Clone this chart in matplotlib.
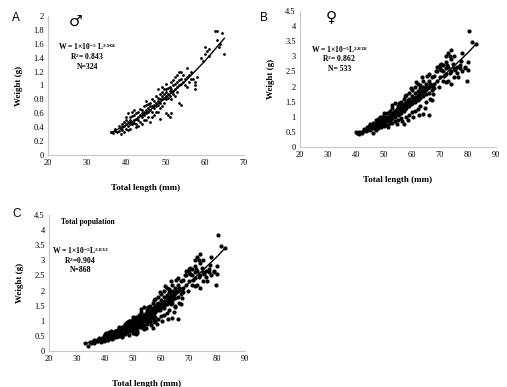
import matplotlib
matplotlib.use("Agg")
import matplotlib.pyplot as plt

plt.rcParams['font.family'] = ['Liberation Serif', 'DejaVu Serif']
plt.rcParams['mathtext.fontset'] = 'custom'
plt.rcParams['mathtext.rm'] = 'Liberation Serif:bold'
plt.rcParams['mathtext.it'] = 'Liberation Serif:bold'
plt.rcParams['mathtext.bf'] = 'Liberation Serif:bold'

# male (A): (total length mm, weight g)
male_pts = [
    (36, 0.33), (36.5, 0.32), (37, 0.34), (37, 0.38), (37.5, 0.33), (38, 0.35), (38, 0.42),
    (38.5, 0.38), (38.5, 0.3), (39, 0.4), (39, 0.44), (39, 0.36), (39.5, 0.42), (39.5, 0.48),
    (40, 0.38), (40, 0.45), (40, 0.5), (40, 0.55), (40.5, 0.42), (40.5, 0.47), (40.5, 0.6),
    (41, 0.45), (41, 0.5), (41, 0.38), (41, 0.55), (41.5, 0.48), (41.5, 0.44), (41.5, 0.62),
    (42, 0.5), (42, 0.46), (42, 0.58), (42, 0.65), (42.5, 0.52), (42.5, 0.45), (42.5, 0.6),
    (43, 0.5), (43, 0.55), (43, 0.62), (43, 0.42), (43.5, 0.58), (43.5, 0.48), (44, 0.55),
    (44, 0.6), (44, 0.65), (44, 0.45), (44.5, 0.58), (44.5, 0.62), (44.5, 0.7), (45, 0.6),
    (45, 0.65), (45, 0.72), (45, 0.5), (45, 0.78), (45.5, 0.62), (45.5, 0.68), (45.5, 0.55),
    (46, 0.65), (46, 0.7), (46, 0.75), (46, 0.48), (46.5, 0.7), (46.5, 0.62), (46.5, 0.8),
    (47, 0.68), (47, 0.72), (47, 0.78), (47, 0.58), (47.5, 0.75), (47.5, 0.7), (47.5, 0.85),
    (48, 0.72), (48, 0.78), (48, 0.82), (48, 0.62), (48, 0.95), (48.5, 0.8), (48.5, 0.75),
    (48.5, 0.88), (48.5, 0.52), (49, 0.8), (49, 0.85), (49, 0.9), (49, 0.7), (49, 0.98),
    (49.5, 0.82), (49.5, 0.88), (49.5, 0.75), (50, 0.85), (50, 0.8), (50, 0.9), (50, 0.95),
    (50, 0.6), (50, 1.02), (50.5, 0.82), (50.5, 0.88), (50.5, 0.58), (51, 0.85), (51, 0.92),
    (51, 0.98), (51, 0.55), (51.5, 0.9), (51.5, 0.95), (51.5, 1.05), (51.5, 0.6), (52, 0.92),
    (52, 1.0), (52, 1.08), (52, 0.88), (52.5, 0.95), (52.5, 1.02), (52.5, 1.12), (53, 0.98),
    (53, 1.05), (53, 1.15), (53, 0.9), (53.5, 1.0), (53.5, 1.08), (53.5, 0.75), (54, 1.02),
    (54, 1.1), (54, 0.72), (54, 1.2), (54.5, 1.05), (55, 1.1), (55, 1.0), (55.5, 1.25),
    (55.5, 1.12), (56, 1.15), (56, 1.05), (56.5, 1.2), (57, 1.1), (57.5, 1.0), (57.5, 0.95),
    (57.5, 1.05), (58, 1.12), (59, 1.4), (59.5, 1.35), (60, 1.55), (60, 1.45), (60.5, 1.5),
    (61, 1.52), (61, 1.42), (62.5, 1.78), (63, 1.79), (63, 1.65), (64.5, 1.75), (65, 1.46),
    (64, 1.6), (63.5, 1.55),
    (39.5, 0.33), (40.5, 0.36), (41.5, 0.56), (42.5, 0.4), (43.5, 0.66), (44.5, 0.5),
    (45.5, 0.74), (46.5, 0.55), (47.5, 0.62), (48.5, 0.68), (49.5, 0.95), (50.5, 0.96),
    (51.5, 0.8), (52.5, 0.85), (53.5, 1.2), (54.5, 1.15), (55.5, 0.98), (56.5, 1.1),
]

# female (B)
female_pts = [
    (40, 0.5), (40.5, 0.45), (41, 0.42), (41, 0.48), (42, 0.45), (42, 0.5), (43, 0.55), (43, 0.6),
    (43.5, 0.52), (44, 0.6), (44, 0.65), (44, 0.55), (44.5, 0.62), (44.5, 0.7), (45, 0.6),
    (45, 0.68), (45, 0.75), (45, 0.55), (45.5, 0.65), (45.5, 0.72), (46, 0.7), (46, 0.62),
    (46, 0.8), (46, 0.45), (46.5, 0.75), (46.5, 0.68), (47, 0.72), (47, 0.8), (47, 0.65),
    (47, 0.88), (47.5, 0.75), (47.5, 0.82), (48, 0.78), (48, 0.7), (48, 0.85), (48, 0.92),
    (48, 0.62), (48.5, 0.8), (48.5, 0.88), (49, 0.82), (49, 0.75), (49, 0.9), (49, 0.98),
    (49, 0.65), (49.5, 0.85), (49.5, 0.92), (50, 0.85), (50, 0.78), (50, 0.95), (50, 1.05),
    (50, 0.7), (50.5, 0.9), (50.5, 0.82), (51, 0.92), (51, 0.85), (51, 1.0), (51, 1.12),
    (51, 0.72), (51.5, 0.95), (51.5, 0.88), (52, 0.98), (52, 0.9), (52, 1.05), (52, 1.2),
    (52, 0.78), (52.5, 1.0), (52.5, 0.92), (53, 1.05), (53, 0.95), (53, 1.12), (53, 1.3),
    (53, 0.8), (53.5, 1.05), (53.5, 1.15), (54, 1.1), (54, 1.0), (54, 1.2), (54, 1.45),
    (54, 0.85), (54.5, 1.12), (54.5, 1.25), (55, 1.15), (55, 1.05), (55, 1.25), (55, 1.35),
    (55, 0.9), (55.5, 1.2), (55.5, 1.1), (56, 1.22), (56, 1.12), (56, 1.32), (56, 1.5),
    (56, 0.95), (56.5, 1.25), (56.5, 1.38), (57, 1.3), (57, 1.2), (57, 1.42), (57, 1.6),
    (57, 0.75), (57.5, 1.35), (57.5, 1.25), (58, 1.38), (58, 1.28), (58, 1.5), (58, 1.72),
    (58, 1.0), (58.5, 1.4), (58.5, 1.55), (59, 1.45), (59, 1.35), (59, 1.6), (59, 1.8),
    (59, 1.05), (59.5, 1.5), (59.5, 1.42), (60, 1.55), (60, 1.45), (60, 1.7), (60, 1.9),
    (60, 1.15), (60.5, 1.6), (60.5, 1.5), (61, 1.62), (61, 1.5), (61, 1.78), (61, 2.0),
    (61, 1.2), (61.5, 1.65), (62, 1.7), (62, 1.55), (62, 1.85), (62, 2.1), (62, 1.25),
    (62.5, 1.75), (63, 1.78), (63, 1.62), (63, 1.95), (63, 2.05), (63, 1.35), (63.5, 1.85),
    (64, 1.85), (64, 1.7), (64, 2.0), (64, 2.2), (64, 1.1), (64.5, 1.9), (65, 1.95), (65, 1.75),
    (65, 2.1), (65, 1.5), (65.5, 2.0), (66, 2.0), (66, 1.8), (66, 2.2), (66, 2.4), (66, 1.05),
    (66.5, 1.6), (67, 2.05), (67, 1.9), (67, 2.3), (67, 1.55), (67.5, 2.0), (68, 2.1),
    (68, 1.95), (68, 2.35), (69, 2.5), (69, 2.2), (69, 2.65), (70, 2.6), (70, 2.7), (70, 2.3),
    (70.5, 2.55), (71, 2.7), (71, 2.5), (71, 2.2), (72, 2.6), (72, 2.8), (72, 2.4), (72, 3.0),
    (72, 2.15), (73, 3.1), (73, 2.65), (73, 2.2), (73.5, 3.0), (74, 2.9), (74, 3.2), (74, 2.5),
    (74, 2.1), (74.5, 2.75), (75, 2.6), (75, 3.0), (75, 2.3), (75.5, 2.55), (76, 2.65),
    (76, 2.45), (77, 2.7), (77, 2.6), (78, 2.5), (78, 3.1), (79, 2.6), (79, 2.65), (80, 2.8),
    (80, 2.55), (80.5, 3.85), (81.5, 3.48), (83, 3.42),
    (47, 0.55), (48.5, 1.0), (50, 1.12), (51.5, 0.65), (53, 1.4), (54.5, 0.75), (55.5, 1.45),
    (56.5, 0.85), (57.5, 1.68), (58.5, 0.9), (59.5, 1.95), (60.5, 1.0), (61.5, 2.15),
    (62.5, 1.05), (63.5, 2.3), (64.5, 1.3), (65.5, 2.35), (66.5, 2.1), (67.5, 1.75),
    (68.5, 2.5), (69.5, 2.0), (70.5, 2.75), (71.5, 2.35), (72.5, 2.7), (73.5, 2.45),
    (76.5, 2.3), (77.5, 2.85), (79.5, 2.2),
]

# unsexed small fish, only in total population (C)
juvenile_pts = [(33, 0.28), (34, 0.17), (34.5, 0.3), (35, 0.27), (35.5, 0.3), (36, 0.35), (36, 0.28)]

# trend lines
male_fit_x = [36, 40, 45, 50, 55, 60, 65]
male_fit_y = [0.32, 0.43, 0.60, 0.82, 1.06, 1.35, 1.68]
female_fit_x = [40, 45, 50, 55, 60, 65, 70, 75, 80, 83]
female_fit_y = [0.45, 0.62, 0.85, 1.12, 1.45, 1.82, 2.25, 2.68, 3.12, 3.42]
total_fit_x = [33, 36, 40, 45, 50, 55, 60, 65, 70, 75, 80, 83]
total_fit_y = [0.25, 0.33, 0.45, 0.62, 0.85, 1.12, 1.45, 1.82, 2.25, 2.68, 3.12, 3.42]

eq_text = {
    'A': ['W = 1×10$^{-5}$ L$^{2.904}$', 'R$^{2}$= 0.843', 'N=324'],
    'B': ['W = 1×10$^{-5}$L$^{2.838}$', 'R$^{2}$= 0.862', 'N= 533'],
    'C': ['W = 1×10$^{-5}$L$^{2.832}$', 'R$^{2}$=0.904', 'N=868'],
}

W, H = 507, 387
fig = plt.figure(figsize=(W / 100, H / 100), dpi=100)


def px_axes(x0, y0, x1, y1):
    return fig.add_axes([x0 / W, 1 - y1 / H, (x1 - x0) / W, (y1 - y0) / H])


def style(ax, xlim, ylim, xticks, yticks, ylabels):
    ax.set_xlim(*xlim)
    ax.set_ylim(*ylim)
    ax.set_xticks(xticks)
    ax.set_yticks(yticks)
    ax.set_yticklabels(ylabels)
    for s in ['top', 'right']:
        ax.spines[s].set_visible(False)
    for s in ['left', 'bottom']:
        ax.spines[s].set_color('#c8c8c8')
        ax.spines[s].set_linewidth(0.8)
    ax.tick_params(length=0, labelsize=6, pad=3)
    ax.set_xlabel('Total length (mm)', fontsize=6.5, fontweight='bold', labelpad=12)
    ax.set_ylabel('Weight (g)', fontsize=6.5, fontweight='bold', labelpad=7)


def eq_block(ax, x, y, lines, step):
    for i, t in enumerate(lines):
        ax.text(x, y - i * step, t, transform=ax.transAxes, ha='center', va='center',
                fontsize=5.5, fontweight='bold')


# A
axA = px_axes(48, 16, 244, 155)
mx, my = zip(*male_pts)
axA.scatter(mx, my, s=4, color='black', linewidths=0)
axA.plot(male_fit_x, male_fit_y, color='black', lw=1)
style(axA, (20, 70), (0, 2), range(20, 71, 10), [i / 10 for i in range(0, 21, 2)],
      ['0', '0.2', '0.4', '0.6', '0.8', '1', '1.2', '1.4', '1.6', '1.8', '2'])
eq_block(axA, 0.2, 0.78, eq_text['A'], 0.072)
axA.text(0.14, 0.96, '♂', transform=axA.transAxes, ha='center', va='center',
         fontsize=11, fontweight='bold', family='DejaVu Sans')
fig.text(12 / W, 1 - 18 / H, 'A', fontsize=8.5, family='Liberation Sans', va='center')

# B
axB = px_axes(300, 11, 496, 147)
fx, fy = zip(*female_pts)
axB.scatter(fx, fy, s=9, color='black', linewidths=0)
axB.plot(female_fit_x, female_fit_y, color='black', lw=1)
yt = [i / 2 for i in range(0, 10)]
style(axB, (20, 90), (0, 4.5), range(20, 91, 10), yt,
      ['0', '0.5', '1', '1.5', '2', '2.5', '3', '3.5', '4', '4.5'])
eq_block(axB, 0.2, 0.72, eq_text['B'], 0.072)
axB.text(0.16, 0.96, '♀', transform=axB.transAxes, ha='center', va='center',
         fontsize=11, fontweight='bold', family='DejaVu Sans')
fig.text(260 / W, 1 - 18 / H, 'B', fontsize=8.5, family='Liberation Sans', va='center')

# C
axC = px_axes(49, 215, 245, 351)
tx, ty = zip(*(male_pts + female_pts + juvenile_pts))
axC.scatter(tx, ty, s=9, color='black', linewidths=0)
axC.plot(total_fit_x, total_fit_y, color='black', lw=1)
style(axC, (20, 90), (0, 4.5), range(20, 91, 10), yt,
      ['0', '0.5', '1', '1.5', '2', '2.5', '3', '3.5', '4', '4.5'])
axC.text(0.2, 0.95, 'Total population', transform=axC.transAxes, ha='center', va='center',
         fontsize=5.5, fontweight='bold')
eq_block(axC, 0.16, 0.74, eq_text['C'], 0.072)
fig.text(12 / W, 1 - 214 / H, 'C', fontsize=8.5, family='Liberation Sans', va='center')

fig.savefig('out.png', dpi=100)
